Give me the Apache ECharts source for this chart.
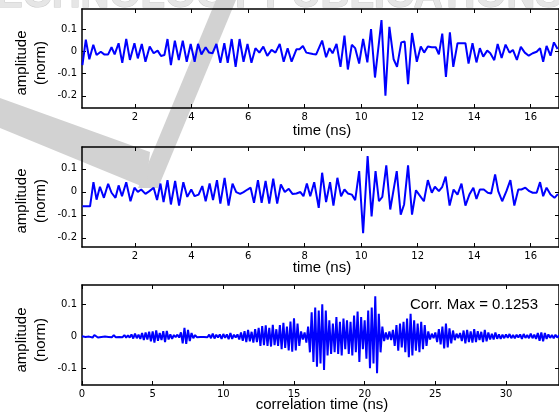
<!DOCTYPE html>
<html><head><meta charset="utf-8">
<script src="https://cdn.jsdelivr.net/npm/echarts@6/dist/echarts.min.js"></script>
<style>html,body{margin:0;padding:0;background:#fff}#c{width:559px;height:419px}</style>
</head><body><div id="c"></div><script>
// ---- data ----
const sig1Time = [0.14,0.26,0.385,0.525,0.64,0.79,0.91,1.05,1.17,1.28,1.42,1.55,1.69,1.82,1.98,2.10,2.24,2.37,2.52,2.66,2.80,2.92,3.04,3.15,3.27,3.41,3.55,3.69,3.83,3.97,4.11,4.23,4.35,4.50,4.62,4.74,4.88,5.02,5.16,5.28,5.42,5.56,5.70,5.84,5.98,6.12,6.26,6.40,6.54,6.68,6.83,6.97,7.12,7.26,7.40,7.54,7.71,7.82,7.94,8.06,8.17,8.29,8.41,8.62,8.76,8.88,8.99,9.13,9.27,9.41,9.53,9.67,9.79,9.93,10.07,10.22,10.35,10.49,10.72,10.86,11.00,11.15,11.27,11.42,11.54,11.66,11.80,11.97,12.11,12.23,12.36,12.50,12.64,12.75,12.87,13.00,13.14,13.26,13.41,13.55,13.69,13.80,13.94,14.08,14.20,14.32,14.46,14.57,14.71,14.83,14.97,15.11,15.25,15.37,15.51,15.65,15.79,15.93,16.07,16.21,16.33,16.44,16.56,16.70,16.82,16.95];
const sig1Amp = [-0.062,0.052,-0.036,0.029,-0.017,-0.002,-0.014,-0.014,0.018,-0.014,0.036,-0.052,0.055,-0.039,0.036,-0.032,0.033,-0.047,0.021,-0.009,0.003,-0.021,-0.017,0.055,-0.062,0.048,-0.039,0.048,-0.047,0.033,-0.047,0.033,-0.014,0.018,-0.006,-0.009,0.033,-0.052,0.036,-0.052,0.055,-0.070,0.055,-0.047,0.033,-0.052,0.014,-0.006,0.021,-0.021,0.006,-0.006,0.033,-0.047,0.014,-0.047,0.009,0.009,0.024,-0.006,-0.009,-0.012,-0.014,0.048,-0.027,0.014,-0.009,0.033,-0.070,0.070,-0.082,0.029,0.014,-0.055,0.055,-0.050,0.100,-0.118,0.140,-0.200,0.110,-0.036,-0.070,0.040,0.044,-0.148,0.082,-0.047,0.021,-0.006,0.021,0.018,0.018,-0.014,0.079,-0.115,0.085,-0.070,0.036,0.036,0.036,-0.055,0.036,-0.050,0.014,-0.024,0.003,-0.009,-0.040,0.033,-0.030,0.030,-0.006,0.006,-0.039,0.020,-0.006,-0.020,-0.009,-0.002,0.014,-0.047,0.024,-0.020,0.040,0.010];

const sig2Time = [0.14,0.41,0.53,0.64,0.76,0.90,1.05,1.17,1.31,1.42,1.54,1.69,1.84,1.98,2.10,2.22,2.37,2.51,2.66,2.78,2.90,3.01,3.15,3.27,3.42,3.56,3.71,3.85,3.99,4.11,4.25,4.38,4.50,4.64,4.76,4.90,5.02,5.17,5.31,5.45,5.58,5.72,5.84,5.98,6.09,6.21,6.35,6.48,6.62,6.75,6.89,7.03,7.16,7.30,7.44,7.57,7.71,7.85,7.96,8.08,8.20,8.34,8.50,8.62,8.76,8.90,9.02,9.16,9.29,9.41,9.53,9.67,9.79,9.93,10.07,10.23,10.37,10.51,10.63,10.75,10.89,11.03,11.26,11.40,11.52,11.66,11.80,11.94,12.05,12.22,12.36,12.50,12.61,12.75,12.87,12.99,13.13,13.27,13.41,13.55,13.69,13.83,13.97,14.08,14.20,14.34,14.48,14.60,14.74,14.85,14.99,15.14,15.28,15.42,15.56,15.67,15.81,15.95,16.07,16.21,16.33,16.44,16.56,16.70,16.84,16.96];
const sig2Amp = [-0.063,-0.063,0.042,-0.034,0.022,-0.026,0.035,-0.004,-0.026,0.028,-0.019,0.042,-0.041,0.018,0.000,0.010,-0.009,0.003,0.018,-0.036,0.036,-0.045,0.051,-0.055,0.047,-0.060,0.042,-0.022,0.010,-0.019,-0.012,0.025,-0.041,0.036,-0.036,0.051,-0.051,0.061,-0.060,0.036,-0.001,-0.009,-0.001,0.010,0.018,-0.048,0.051,-0.048,0.047,-0.051,0.057,-0.051,0.032,-0.001,0.013,-0.009,-0.007,-0.001,-0.019,0.036,-0.019,0.042,-0.070,0.083,-0.045,0.042,-0.060,0.061,-0.019,0.010,-0.007,-0.012,-0.036,0.090,-0.180,0.156,-0.107,0.090,-0.041,-0.022,0.115,-0.077,0.090,-0.099,-0.055,0.115,-0.099,0.007,-0.012,-0.041,0.051,-0.004,0.022,0.003,0.022,0.066,-0.060,0.010,-0.012,0.036,-0.060,-0.012,0.018,-0.031,0.010,0.010,-0.004,-0.007,0.076,0.003,-0.041,0.003,0.051,-0.060,0.010,0.010,0.018,0.003,-0.004,-0.004,0.042,-0.019,0.018,-0.012,-0.026,-0.010];

const corrStep = 0.125; // ns between correlation samples, starting at 0
const corrAmp = [
 0.000,0.001,-0.002,0.002,-0.001,0.003,-0.004,0.004,
 0.003,-0.004,0.002,-0.002,0.001,-0.001,0.002,-0.002,
 0.003,-0.003,0.004,-0.003,0.002,-0.002,0.001,-0.003,
 0.004,-0.004,0.003,-0.004,0.006,-0.007,0.008,-0.006,
 0.005,-0.008,0.010,-0.012,0.012,-0.010,0.014,-0.016,
 0.015,-0.020,0.018,-0.014,0.010,-0.012,0.016,-0.018,
 0.017,-0.010,0.006,-0.008,0.004,-0.003,0.005,-0.004,
 0.012,-0.022,0.026,-0.024,0.020,-0.015,0.010,-0.006,
 0.004,-0.003,0.002,-0.002,0.003,-0.002,0.001,-0.003,
 0.005,-0.006,0.008,-0.007,0.005,-0.004,0.006,-0.008,
 0.007,-0.005,0.006,-0.009,0.010,-0.008,0.005,-0.004,
 0.006,-0.010,0.012,-0.014,0.016,-0.018,0.020,-0.016,
 0.014,-0.020,0.022,-0.018,0.026,-0.030,0.032,-0.028,
 0.034,-0.030,0.026,-0.032,0.036,-0.028,0.022,-0.030,
 0.035,-0.040,0.042,-0.036,0.030,-0.044,0.046,-0.048,
 0.056,-0.044,0.040,-0.030,0.015,-0.010,0.012,-0.020,
 0.030,-0.050,0.075,-0.080,0.090,-0.095,0.080,-0.085,
 0.100,-0.105,0.080,-0.060,0.050,-0.055,0.040,-0.050,
 0.060,-0.055,0.045,-0.060,0.055,-0.040,0.050,-0.055,
 0.045,-0.060,0.065,-0.050,0.077,-0.080,0.060,-0.040,
 0.050,-0.070,0.080,-0.100,0.090,-0.085,0.125,-0.115,
 0.070,-0.050,0.030,-0.015,0.012,-0.010,0.015,-0.012,
 0.020,-0.030,0.035,-0.045,0.040,-0.035,0.045,-0.050,
 0.055,-0.065,0.070,-0.060,0.050,-0.045,0.040,-0.050,
 0.045,-0.040,0.035,-0.030,0.015,-0.010,0.008,-0.006,
 0.012,-0.018,0.022,-0.025,0.030,-0.038,0.040,-0.035,
 0.025,-0.022,0.018,-0.012,0.008,-0.006,0.010,-0.015,
 0.018,-0.022,0.020,-0.018,0.015,-0.020,0.022,-0.018,
 0.016,-0.012,0.014,-0.018,0.020,-0.016,0.012,-0.010,
 0.008,-0.010,0.012,-0.008,0.006,-0.008,0.005,-0.006,
 0.006,-0.005,0.007,-0.006,0.004,-0.006,0.005,-0.004,
 0.006,-0.008,0.007,-0.005,0.004,-0.006,0.008,-0.006,
 0.005,-0.008,0.010,-0.014,0.012,-0.016,0.010,-0.008,
 0.006,-0.005,0.004,-0.006,0.005,-0.004,0.003,-0.002];

const timeTicks = [2,4,6,8,10,12,14,16];
const corrTicks = [0,5,10,15,20,25,30];
const ampTicks12 = [-0.2,-0.1,0,0.1];
const ampTicks3 = [-0.1,0,0.1];
const yLabelLines = ['amplitude','(norm)'];
const xLabel12 = 'time (ns)';
const xLabel3 = 'correlation time (ns)';
const corrNote = 'Corr. Max = 0.1253';
const watermarkText = 'SCIENCE AND TECHNOLOGY PUBLICATIONS';

// ---- chart ----
const chart = echarts.init(document.getElementById('c'), null, {renderer:'canvas'});
const BLACK = '#000';
const tickFont = {color:BLACK, fontFamily:'DejaVu Sans', fontSize:10};
const grids = [
  {left:82, top:9, width:480, height:99},
  {left:82, top:147, width:480, height:100},
  {left:82, top:285, width:480, height:100}
];
const xRanges = [[0.125,17],[0.125,17],[0,33.75]];
const yRanges = [[-0.255,0.19],[-0.24,0.195],[-0.152,0.16]];
const xTickSets = [timeTicks,timeTicks,corrTicks];
const yTickSets = [ampTicks12,ampTicks12,ampTicks3];
const xAxes = [], yAxes = [];
grids.forEach((g,i)=>{
  const axLine = {show:true, onZero:false, lineStyle:{color:BLACK,width:1.5}};
  xAxes.push({gridIndex:i, type:'value', position:'bottom', min:xRanges[i][0], max:xRanges[i][1],
    axisLine:axLine, splitLine:{show:false},
    axisTick:{show:true, inside:true, length:4, customValues:xTickSets[i], lineStyle:{color:BLACK,width:1}},
    axisLabel:{show:true, margin:4, customValues:xTickSets[i], ...tickFont, formatter:v=>String(v)}});
  xAxes.push({gridIndex:i, type:'value', position:'top', min:xRanges[i][0], max:xRanges[i][1],
    axisLine:axLine, splitLine:{show:false},
    axisTick:{show:true, inside:true, length:4, customValues:xTickSets[i], lineStyle:{color:BLACK,width:1}},
    axisLabel:{show:false}});
  yAxes.push({gridIndex:i, type:'value', position:'left', min:yRanges[i][0], max:yRanges[i][1],
    axisLine:axLine, splitLine:{show:false},
    axisTick:{show:true, inside:true, length:4, customValues:yTickSets[i], lineStyle:{color:BLACK,width:1}},
    axisLabel:{show:true, margin:5, customValues:yTickSets[i], ...tickFont,
      formatter:v=>String(Math.round(v*10)/10)}});
  yAxes.push({gridIndex:i, type:'value', position:'right', min:yRanges[i][0], max:yRanges[i][1],
    axisLine:axLine, splitLine:{show:false},
    axisTick:{show:true, inside:true, length:4, customValues:yTickSets[i], lineStyle:{color:BLACK,width:1}},
    axisLabel:{show:false}});
});

const s1 = sig1Time.map((t,k)=>[t,sig1Amp[k]]);
const s2 = sig2Time.map((t,k)=>[t,sig2Amp[k]]);
const s3 = corrAmp.map((v,k)=>[k*corrStep,v]);
const lineSeries = (data,i,w)=>({type:'line', xAxisIndex:i*2, yAxisIndex:i*2, data, showSymbol:false,
  symbol:'none', clip:true, animation:false, lineStyle:{color:'#0000ff', width:w}});

const txt = (text,x,y,size)=>({type:'text', x, y, z:100,
  style:{text, fill:BLACK, font:size+'px "Liberation Sans", Arial, sans-serif', textAlign:'center', textVerticalAlign:'middle'}});
const ylab = (cy)=>({type:'text', x:31, y:cy, rotation:Math.PI/2, z:100,
  style:{text:yLabelLines.join('\n'), fill:BLACK, font:'15px "Liberation Sans", Arial, sans-serif',
    textAlign:'center', textVerticalAlign:'middle', lineHeight:19}});
// faint publisher watermark (decoration behind the plots)
const WM = '#d2d2d2';
const watermark = [
  {type:'text', z:-1, silent:true, x:562, y:16,
   style:{text:watermarkText, font:'bold 40px "Liberation Sans", Arial, sans-serif', fill:'#e6e6e6',
     stroke:'#cccccc', lineWidth:1, textAlign:'right', textVerticalAlign:'bottom'}},
  {type:'rect', z:-1, silent:true, shape:{x:82, y:9, width:480, height:12}, style:{fill:'#fff'}},
  {type:'polygon', z:-1, silent:true, shape:{points:[[216,0],[236,0],[158,188],[138,188]]}, style:{fill:WM}},
  {type:'polygon', z:-1, silent:true, shape:{points:[[0,98],[150,152],[146,188],[0,128]]}, style:{fill:WM}}
];

chart.setOption({
  animation:false,
  backgroundColor:'#fff',
  grid:grids.map(g=>Object.assign({containLabel:false},g)),
  xAxis:xAxes, yAxis:yAxes,
  series:[lineSeries(s1,0,2), lineSeries(s2,1,2), lineSeries(s3,2,2)],
  graphic:[
    ...watermark,
    ylab(63), ylab(201), ylab(340),
    txt(xLabel12,322,131,15), txt(xLabel12,322,268,15), txt(xLabel3,322,405,15),
    txt(corrNote,474,305,15)
  ]
});
</script></body></html>
